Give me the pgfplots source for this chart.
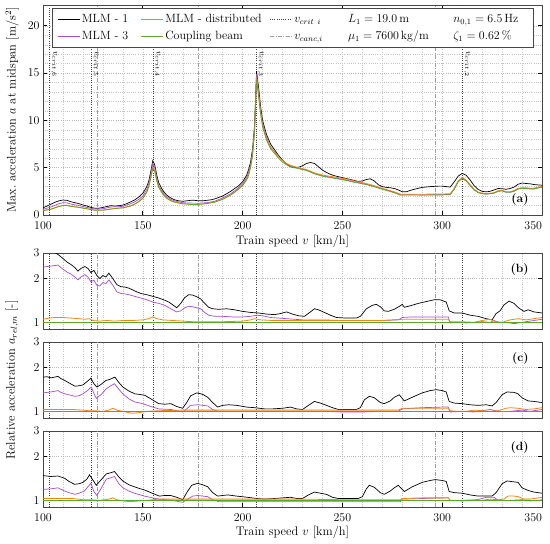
\RequirePackage{fix-cm}
\documentclass[border=0pt]{standalone}
\usepackage{pgfplots}
\pgfplotsset{compat=1.18}
\definecolor{mlmorange}{RGB}{247,130,20}
\definecolor{mlmgreen}{RGB}{90,168,40}
\definecolor{mlmpurple}{RGB}{165,75,215}
\definecolor{framegray}{RGB}{70,70,70}
\newcommand{\fs}{\fontsize{12}{14}\selectfont}
\newcommand{\fl}{\fontsize{12.5}{15}\selectfont}
\pgfplotsset{
  myaxisbase/.style={
    scale only axis, width=499bp, xmin=100, xmax=350,
    xtick={100,150,...,350}, minor x tick num=4,
    xticklabels={100,150,200,250,300,\llap{350}},
    grid=both, grid style={gray!55, dash pattern=on 0.6bp off 1.6bp, line width=0.45pt},
    minor grid style={gray!45, dash pattern=on 0.6bp off 1.6bp, line width=0.4pt},
    axis line style={framegray, line width=0.7pt},
    tick style={black, line width=0.7pt}, major tick length=4bp, minor tick length=0pt,
    tick align=inside,
    xticklabel style={font=\fs, yshift=-3.5bp},
    yticklabel style={font=\fs},
  },
  mycrit/.style={black!75, dash pattern=on 0.6bp off 1.6bp, line width=0.55pt, forget plot},
  mycanc/.style={gray!75, dash pattern=on 4bp off 1.5bp on 0.8bp off 1.5bp, line width=0.6pt, forget plot},
  myone/.style={black, line width=0.7pt, forget plot},
  mythree/.style={mlmpurple, line width=0.7pt, forget plot},
  mydist/.style={mlmorange, line width=0.8pt, forget plot},
  mybeam/.style={mlmgreen, line width=0.7pt, forget plot},
}
\begin{document}
\begin{tikzpicture}[font=\fs]
\path (0,0) rectangle (550bp,-544bp);

% ---------------- panel (a)
\begin{axis}[myaxisbase, at={(43bp,-5bp)}, anchor=north west, height=210bp,
  ymin=0, ymax=22.2, ytick={0,5,10,15,20}, minor y tick num=4,
  xlabel={Train speed $v$ [km/h]},
  xlabel style={font=\fl, at={(axis description cs:0.5,-0.124)}, anchor=center},
  ylabel={Max.\ acceleration $a$ at midspan [m/s$^2$]},
  ylabel style={font=\fl, at={(axis description cs:-0.062,0.5)}, anchor=center},
  legend columns=3,
  legend cell align=left,
  legend image code/.code={\draw[#1] (0bp,0bp) -- (22bp,0bp);},
  legend style={at={(axis description cs:0.028,0.970)}, anchor=north west,
    draw=none, fill=none, inner sep=0pt, row sep=1bp,
    font=\fs, nodes={inner sep=2bp, text height=9bp, text depth=3bp},
    /tikz/column 2/.style={column sep=10bp},
    /tikz/column 4/.style={column sep=6bp}},
]
\addlegendimage{draw=black, line width=0.7pt}\addlegendentry{MLM - 1}
\addlegendimage{draw=mlmorange, line width=1pt}\addlegendentry{MLM - distributed}
\addlegendimage{draw=black!75, dash pattern=on 0.6bp off 1.6bp, line width=0.55pt}\addlegendentry{$v_{crit\ i}$}
\addlegendimage{draw=mlmpurple, line width=0.8pt}\addlegendentry{MLM - 3}
\addlegendimage{draw=mlmgreen, line width=0.8pt}\addlegendentry{Coupling beam}
\addlegendimage{draw=gray!75, dash pattern=on 4bp off 1.5bp on 0.8bp off 1.5bp, line width=0.6pt}\addlegendentry{$v_{canc,i}$}

\addplot[mycrit] coordinates {(103.3,0) (103.3,22.2)};
\addplot[mycrit] coordinates {(124.0,0) (124.0,22.2)};
\addplot[mycrit] coordinates {(155.0,0) (155.0,22.2)};
\addplot[mycrit] coordinates {(206.7,0) (206.7,22.2)};
\addplot[mycrit] coordinates {(310.0,0) (310.0,22.2)};
\addplot[mycanc] coordinates {(127.0,0) (127.0,22.2)};
\addplot[mycanc] coordinates {(177.8,0) (177.8,22.2)};
\addplot[mycanc] coordinates {(296.4,0) (296.4,22.2)};

\addplot[myone] table {
100 0.75
102 0.95
104 1.15
106 1.35
108 1.5
110 1.58
112 1.55
114 1.4
116 1.3
118 1.2
120 1.06
122 0.95
124 0.8
126 0.72
128 0.72
130 0.8
132 0.9
134 0.98
136 0.95
138 0.98
140 1.05
142 1.2
144 1.4
146 1.6
148 1.9
150 2.3
152 3.0
153 3.6
154 4.6
155 5.75
156 5.3
157 4.2
158 3.4
160 2.6
162 2.1
164 1.8
166 1.6
168 1.5
170 1.45
172 1.5
174 1.55
176 1.55
178 1.5
180 1.5
182 1.55
184 1.6
186 1.7
188 1.85
190 2.0
192 2.25
194 2.5
196 2.8
198 3.1
200 3.5
202 4.2
203 4.8
204 5.6
205 7.0
206 9.5
207 15.2
208 13.5
209 11.5
210 10.0
212 8.5
214 7.5
216 6.9
218 6.3
220 5.8
222 5.4
224 5.1
226 5.0
228 5.05
230 5.2
232 5.45
234 5.55
236 5.45
238 5.1
240 4.75
242 4.5
244 4.3
246 4.15
248 4.05
250 3.95
252 3.85
254 3.75
256 3.65
258 3.55
260 3.6
262 3.75
264 3.83
266 3.6
268 3.2
270 3.0
272 2.92
274 2.88
276 2.8
278 2.65
280 2.45
282 2.45
284 2.6
286 2.72
288 2.82
290 2.92
294 3.0
298 3.05
300 3.05
302 3.0
304 2.95
306 3.5
308 4.1
310 4.4
312 4.2
314 3.7
316 3.1
318 2.7
320 2.5
322 2.45
324 2.5
326 2.65
328 2.8
330 2.78
332 2.72
334 2.8
336 2.95
338 3.25
340 3.38
342 3.33
344 3.3
346 3.22
348 3.18
350 3.15
};
\addplot[mythree] table {
100 0.6
104 0.85
108 1.2
110 1.3
112 1.28
114 1.15
118 1.0
122 0.8
126 0.62
130 0.66
134 0.85
138 0.88
140 0.92
144 1.2
146 1.4
148 1.65
150 2.0
152 2.7
153 3.3
154 4.3
155 5.45
156 5.0
157 3.9
158 3.1
160 2.4
162 1.95
164 1.65
166 1.5
168 1.38
170 1.3
174 1.26
178 1.25
182 1.3
186 1.45
190 1.8
194 2.25
196 2.55
198 2.9
200 3.3
202 3.95
203 4.5
204 5.3
205 6.7
206 9.2
207 14.9
208 13.0
209 11.1
210 9.7
212 8.2
214 7.2
216 6.7
218 6.2
220 5.75
222 5.4
224 5.2
228 4.95
232 4.75
236 4.4
240 4.15
244 4.0
248 3.85
252 3.7
256 3.5
260 3.35
264 3.15
268 2.9
272 2.65
276 2.4
279 2.15
290 2.12
300 2.15
304 2.18
306 2.75
308 3.55
310 3.9
312 3.65
314 3.15
316 2.7
318 2.4
320 2.28
322 2.22
324 2.27
326 2.33
328 2.52
330 2.58
332 2.42
334 2.42
336 2.52
338 2.77
340 2.82
342 2.82
344 2.77
346 2.78
348 2.88
350 2.97
};
\addplot[mydist] table {
100 0.48
104 0.63
108 0.92
110 1.02
112 1.02
114 0.93
118 0.82
122 0.67
126 0.52
130 0.52
134 0.64
138 0.74
140 0.77
144 0.98
146 1.18
148 1.43
150 1.8
152 2.45
153 3.1
154 4.0
155 5.05
156 4.7
157 3.7
158 2.95
160 2.25
162 1.8
164 1.55
166 1.38
168 1.28
170 1.2
174 1.14
178 1.14
182 1.22
186 1.37
190 1.68
194 2.12
196 2.42
198 2.78
200 3.15
202 3.75
203 4.3
204 5.1
205 6.45
206 9.0
207 14.6
208 12.8
209 10.9
210 9.5
212 8.05
214 7.15
216 6.65
218 6.15
220 5.75
222 5.45
224 5.25
228 5.0
232 4.8
236 4.45
240 4.22
244 4.08
248 3.95
252 3.8
256 3.6
260 3.42
264 3.22
268 2.96
272 2.7
276 2.45
279 2.2
290 2.2
300 2.22
304 2.25
306 2.8
308 3.6
310 3.95
312 3.7
314 3.2
316 2.72
318 2.42
320 2.3
322 2.26
324 2.3
326 2.36
328 2.56
330 2.62
332 2.46
334 2.46
336 2.58
338 2.82
340 2.88
342 2.88
344 2.83
346 2.84
348 2.94
350 3.03
};
\addplot[mybeam] table {
100 0.45
104 0.6
108 0.9
110 1.0
112 1.0
114 0.9
118 0.8
122 0.65
126 0.5
130 0.5
134 0.62
138 0.72
140 0.75
144 0.95
146 1.15
148 1.4
150 1.75
152 2.4
153 3.0
154 3.9
155 4.95
156 4.6
157 3.6
158 2.9
160 2.2
162 1.75
164 1.5
166 1.35
168 1.25
170 1.18
174 1.12
178 1.12
182 1.2
186 1.35
190 1.65
194 2.1
196 2.4
198 2.75
200 3.1
202 3.7
203 4.2
204 5.0
205 6.3
206 8.8
207 14.3
208 12.5
209 10.7
210 9.3
212 7.9
214 7.0
216 6.5
218 6.0
220 5.6
222 5.3
224 5.1
228 4.9
232 4.7
236 4.35
240 4.1
244 3.95
248 3.8
252 3.65
256 3.45
260 3.3
264 3.1
268 2.85
272 2.6
276 2.35
279 2.1
290 2.1
300 2.12
304 2.15
306 2.7
308 3.5
310 3.85
312 3.6
314 3.1
316 2.65
318 2.35
320 2.25
322 2.2
324 2.25
326 2.3
328 2.5
330 2.55
332 2.4
334 2.4
336 2.5
338 2.75
340 2.8
342 2.8
344 2.75
346 2.75
348 2.85
350 2.95
};
\node[font=\fontsize{8.5}{10}\selectfont, rotate=-90, anchor=south west, inner sep=1.5bp] at (axis cs:103.3,17.5) {$v_{crit,6}$};
\node[font=\fontsize{8.5}{10}\selectfont, rotate=-90, anchor=south west, inner sep=1.5bp] at (axis cs:124.0,17.5) {$v_{crit,5}$};
\node[font=\fontsize{8.5}{10}\selectfont, rotate=-90, anchor=south west, inner sep=1.5bp] at (axis cs:155.0,17.5) {$v_{crit,4}$};
\node[font=\fontsize{8.5}{10}\selectfont, rotate=-90, anchor=south west, inner sep=1.5bp] at (axis cs:206.7,17.5) {$v_{crit,3}$};
\node[font=\fontsize{8.5}{10}\selectfont, rotate=-90, anchor=south west, inner sep=1.5bp] at (axis cs:310.0,17.5) {$v_{crit,2}$};
\node[anchor=south east, font=\fs\bfseries] at (rel axis cs:0.98,0.03) {(a)};
% legend frame and bridge parameters
\draw[framegray, line width=0.7pt, fill=white] (axis description cs:0.018,0.986) rectangle (axis description cs:0.982,0.800);
\node[anchor=base west, inner sep=0pt] at (axis description cs:0.611,0.918) {$L_1 = 19.0\,\mathrm{m}$};
\node[anchor=base west, inner sep=0pt] at (axis description cs:0.611,0.836) {$\mu_1 = 7600\,\mathrm{kg/m}$};
\node[anchor=base west, inner sep=0pt] at (axis description cs:0.822,0.918) {$n_{0,1} = 6.5\,\mathrm{Hz}$};
\node[anchor=base west, inner sep=0pt] at (axis description cs:0.822,0.836) {$\zeta_1 = 0.62\,\%$};
\end{axis}

% ---------------- panel (b)
\begin{axis}[myaxisbase, height=76bp, ymode=log, ymin=0.9, ymax=3,
  ytick={1,2,3}, yticklabels={1,2,3}, yminorticks=false,
  at={(43bp,-253bp)}, anchor=north west, xticklabels={}]
\addplot[mycrit] coordinates {(103.3,0.9) (103.3,3)};
\addplot[mycrit] coordinates {(124.0,0.9) (124.0,3)};
\addplot[mycrit] coordinates {(155.0,0.9) (155.0,3)};
\addplot[mycrit] coordinates {(206.7,0.9) (206.7,3)};
\addplot[mycrit] coordinates {(310.0,0.9) (310.0,3)};
\addplot[mycanc] coordinates {(127.0,0.9) (127.0,3)};
\addplot[mycanc] coordinates {(177.8,0.9) (177.8,3)};
\addplot[mycanc] coordinates {(296.4,0.9) (296.4,3)};
\addplot[myone] table {
100 3.4
103 3.2
106 3.02
108 2.9
110 2.75
112 2.6
114 2.5
116 2.38
117.5 2.25
119 2.35
121 2.42
122.5 2.35
124 2.2
125.5 2.28
127 2.1
128.5 2.0
130 2.1
131.5 2.05
133 2.18
135 2.0
137 1.82
139 1.76
141 1.75
143 1.72
145 1.67
147 1.62
149 1.58
152 1.55
155 1.51
158 1.47
161 1.42
163 1.38
165 1.32
167 1.26
169 1.35
171 1.48
173 1.55
175 1.54
177 1.5
179 1.45
181 1.35
183 1.27
185 1.24
188 1.23
192 1.24
196 1.22
200 1.19
204 1.17
208 1.16
212 1.14
216 1.13
219 1.15
222 1.18
225 1.14
228 1.11
231 1.10
234 1.18
236 1.24
238 1.22
241 1.17
244 1.12
247 1.08
252 1.07
257 1.07
259 1.1
262 1.24
265 1.31
267 1.33
269 1.28
271 1.2
273 1.19
276 1.23
279 1.3
280 1.33
281 1.27
284 1.3
288 1.35
292 1.39
296 1.43
299 1.43
302 1.38
303.5 1.2
306 1.16
310 1.16
314 1.12
318 1.1
322 1.06
325 1.04
327 1.15
329 1.2
331 1.32
333.5 1.40
336 1.35
338.5 1.25
341 1.19
343 1.22
346 1.18
350 1.16
};
\addplot[mythree] table {
100 2.4
102 2.42
105 2.45
107.5 2.48
110 2.32
112 2.22
114 2.15
116 2.05
117.5 1.96
119 2.05
121 2.13
122.5 2.05
124 1.9
125.5 1.95
127 1.8
128.5 1.78
130 1.88
131.5 1.85
133 1.96
135 1.8
137 1.62
139 1.58
141 1.57
143 1.55
146 1.51
149 1.47
152 1.43
155 1.38
158 1.35
161 1.31
164 1.24
167 1.18
169 1.2
171 1.26
173 1.29
175 1.28
177 1.26
179 1.24
181 1.17
183 1.12
186 1.1
190 1.1
195 1.09
200 1.09
204 1.1
207 1.12
210 1.11
214 1.08
218 1.07
222 1.06
226 1.05
230 1.04
240 1.04
250 1.03
260 1.03
270 1.03
278 1.04
280 1.08
285 1.09
290 1.09
295 1.09
300 1.09
303 1.09
304 0.99
308 1.0
312 0.99
316 1.0
320 1.01
324 1.0
326 1.03
328 1.0
332 1.0
336 0.98
340 1.0
344 1.02
348 1.04
350 1.05
};
\addplot[mydist] table {
100 1.05
103 1.07
106 1.08
110 1.08
114 1.07
118 1.06
121 1.05
123 1.06
125 1.03
128 1.02
132 1.03
136 1.02
140 1.03
145 1.03
150 1.04
153 1.06
155 1.09
157 1.06
160 1.04
165 1.03
170 1.02
175 1.01
180 1.01
190 1.01
200 1.02
204 1.04
206 1.06
209 1.04
215 1.03
230 1.03
250 1.03
270 1.03
280 1.05
290 1.05
303 1.05
304 1.01
310 1.01
316 1.0
320 1.03
324 1.05
326 1.02
330 1.0
334 1.04
338 1.06
342 1.04
346 1.06
350 1.08
};
\addplot[mybeam] coordinates {(100,1) (350,1)};
\node[anchor=north east, font=\fs\bfseries] at (rel axis cs:0.98,0.91) {(b)};
\end{axis}

% ---------------- panel (c)
\begin{axis}[myaxisbase, height=76bp, ymode=log, ymin=0.9, ymax=3,
  ytick={1,2,3}, yticklabels={1,2,3}, yminorticks=false,
  at={(43bp,-342bp)}, anchor=north west, xticklabels={},
  ylabel={Relative acceleration $a_{rel,m}$ [-]},
  ylabel style={font=\fl, at={(axis description cs:-0.062,0.5)}, anchor=center}]
\addplot[mycrit] coordinates {(103.3,0.9) (103.3,3)};
\addplot[mycrit] coordinates {(124.0,0.9) (124.0,3)};
\addplot[mycrit] coordinates {(155.0,0.9) (155.0,3)};
\addplot[mycrit] coordinates {(206.7,0.9) (206.7,3)};
\addplot[mycrit] coordinates {(310.0,0.9) (310.0,3)};
\addplot[mycanc] coordinates {(127.0,0.9) (127.0,3)};
\addplot[mycanc] coordinates {(177.8,0.9) (177.8,3)};
\addplot[mycanc] coordinates {(296.4,0.9) (296.4,3)};
\addplot[myone] table {
100 1.72
102 1.73
104 1.7
107.5 1.74
109 1.68
111 1.63
113 1.57
116 1.49
118 1.5
120 1.52
122 1.6
124 1.69
125.5 1.55
127 1.47
129 1.53
131.5 1.63
133.5 1.66
136 1.72
138 1.58
140 1.47
143 1.38
146 1.32
148 1.31
151 1.29
154 1.22
158 1.13
161 1.12
164 1.13
167 1.08
170 1.05
172 1.15
174 1.28
177 1.34
180 1.31
182.5 1.25
185 1.15
187.5 1.07
190 1.1
193 1.11
197 1.1
202 1.07
206 1.06
211 1.04
215 1.04
220 1.05
224 1.07
227 1.04
230 1.03
233 1.1
236 1.17
239 1.14
242 1.10
245 1.06
248 1.03
257 1.03
259 1.06
261 1.2
263.5 1.27
266 1.24
269 1.15
271 1.13
274 1.18
276 1.25
278.5 1.30
281 1.18
285 1.25
290 1.34
294 1.39
297 1.41
300 1.39
302 1.36
303.5 1.17
306 1.14
310 1.13
314 1.11
318 1.10
322 1.11
325 1.09
327 1.15
330 1.3
332.5 1.36
336 1.35
338 1.32
340 1.24
343 1.18
346 1.17
350 1.15
};
\addplot[mythree] table {
100 1.34
104 1.36
107.5 1.39
109 1.35
111 1.32
113 1.3
116 1.27
118 1.28
120 1.32
122 1.38
124.2 1.47
125.5 1.33
126.7 1.23
129 1.3
131.7 1.43
134 1.5
135.8 1.55
138 1.42
140 1.32
143 1.22
146 1.16
150 1.13
154 1.08
158 1.04
164 1.03
167 1.01
170 0.99
172 1.04
174 1.1
177.5 1.11
180 1.1
182.5 1.09
185 1.03
187.5 1.0
195 1.0
205 1.0
215 1.0
225 1.0
240 1.0
250 0.99
260 0.99
270 1.0
278 1.0
280 1.04
285 1.05
290 1.06
300 1.07
303 1.07
304 0.99
310 1.0
316 0.99
320 1.01
324 1.03
328 1.0
334 1.0
340 1.02
344 1.0
348 1.02
350 1.03
};
\addplot[mydist] table {
100 1.03
105 1.03
110 1.03
115 1.03
120 1.02
123 1.01
126 1.01
130 1.0
133 1.02
135 1.05
137 1.02
140 1.0
143 0.98
145 0.97
148 0.98
152 1.0
158 1.01
170 1.02
190 1.02
210 1.02
240 1.02
260 1.02
278 1.02
280 1.05
290 1.05
300 1.05
303 1.05
304 1.01
308 1.0
312 1.0
316 1.02
320 1.01
324 1.0
328 1.01
332 1.05
334 1.06
338 1.05
342 1.03
346 1.04
350 1.06
};
\addplot[mybeam] coordinates {(100,1) (350,1)};
\node[anchor=north east, font=\fs\bfseries] at (rel axis cs:0.98,0.91) {(c)};
\end{axis}

% ---------------- panel (d)
\begin{axis}[myaxisbase, height=76bp, ymode=log, ymin=0.9, ymax=3,
  ytick={1,2,3}, yticklabels={1,2,3}, yminorticks=false,
  at={(43bp,-431bp)}, anchor=north west,
  xlabel={Train speed $v$ [km/h]},
  xlabel style={font=\fl, at={(axis description cs:0.5,-0.33)}, anchor=center}]
\addplot[mycrit] coordinates {(103.3,0.9) (103.3,3)};
\addplot[mycrit] coordinates {(124.0,0.9) (124.0,3)};
\addplot[mycrit] coordinates {(155.0,0.9) (155.0,3)};
\addplot[mycrit] coordinates {(206.7,0.9) (206.7,3)};
\addplot[mycrit] coordinates {(310.0,0.9) (310.0,3)};
\addplot[mycanc] coordinates {(127.0,0.9) (127.0,3)};
\addplot[mycanc] coordinates {(177.8,0.9) (177.8,3)};
\addplot[mycanc] coordinates {(296.4,0.9) (296.4,3)};
\addplot[myone] table {
100 1.48
102 1.47
104 1.46
107.5 1.47
110.8 1.42
113 1.35
115.8 1.29
118 1.3
120 1.33
122 1.4
123.3 1.5
125 1.38
126.7 1.27
129 1.38
131.7 1.52
134 1.55
135.8 1.58
138 1.45
140 1.36
143 1.28
145.8 1.24
148 1.21
150.8 1.18
154 1.13
158.3 1.07
161 1.08
164 1.08
167 1.05
170 1.01
172 1.13
174.5 1.27
177.5 1.31
180 1.28
182.5 1.24
185 1.13
187.5 1.07
190 1.08
192.5 1.09
197 1.07
202.5 1.05
207 1.03
211 1.02
216 1.03
220 1.04
224 1.05
227 1.03
230 1.03
233 1.09
236 1.14
239 1.12
242 1.10
245 1.05
248 1.03
258 1.03
260 1.06
262 1.2
263.5 1.27
266 1.23
269 1.13
271 1.10
274 1.16
276 1.22
278 1.27
281 1.15
285 1.24
290 1.33
294 1.37
296.5 1.39
300 1.37
302 1.35
303.5 1.15
306 1.13
310 1.12
314 1.09
318 1.07
322 1.07
325 1.07
327 1.13
330 1.3
332.5 1.36
336 1.34
338 1.33
340 1.22
343 1.17
346 1.14
350 1.12
};
\addplot[mythree] table {
100 1.19
104 1.2
107.5 1.22
110.8 1.16
113 1.13
116 1.10
118 1.12
120.8 1.16
122.5 1.24
124 1.31
125.5 1.15
127 1.08
129 1.2
131.7 1.40
134 1.43
135.8 1.46
138 1.3
140 1.22
143 1.16
145.8 1.12
150.8 1.07
155 1.04
158 1.02
165 1.0
168 0.98
170 0.97
172 1.01
175 1.07
177.5 1.08
180 1.07
182.5 1.06
185 1.01
188 0.98
200 0.98
220 0.98
240 0.98
260 0.98
270 0.98
279 0.98
280 1.02
290 1.03
300 1.04
303 1.04
304 1.0
310 0.99
316 1.0
320 1.03
322 1.05
326 1.05
328 1.0
334 1.0
340 1.01
344 0.99
348 1.0
350 1.01
};
\addplot[mydist] table {
100 1.03
105 1.03
110 1.03
115 1.03
120 1.01
124 1.01
128 1.0
131 1.01
133 1.02
135 1.04
137 1.01
140 0.99
144 0.98
148 0.99
152 1.0
158 1.02
170 1.02
190 1.02
210 1.02
230 1.02
250 1.01
270 1.01
279 1.01
280 1.03
290 1.04
303 1.04
304 1.0
310 1.0
316 1.01
320 1.0
324 1.02
328 1.01
331 1.02
333 1.07
336 1.07
338 1.06
341 1.02
344 1.02
348 1.04
350 1.05
};
\addplot[mybeam] coordinates {(100,1) (350,1)};
\node[anchor=north east, font=\fs\bfseries] at (rel axis cs:0.98,0.91) {(d)};
\end{axis}
\end{tikzpicture}
\end{document}
